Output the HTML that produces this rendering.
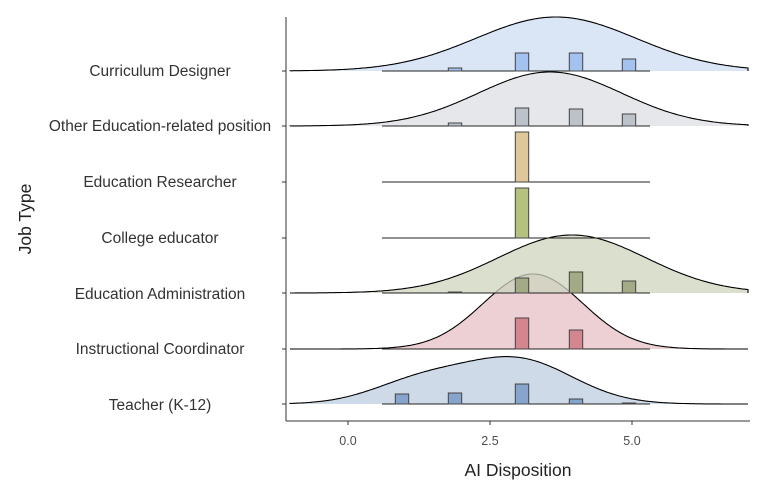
<!DOCTYPE html>
<html><head><meta charset="utf-8"><style>
body{margin:0;background:#fff}
text{font-family:"Liberation Sans",sans-serif}
</style></head><body>
<svg id="s" width="771" height="492" xmlns="http://www.w3.org/2000/svg">
<rect width="771" height="492" fill="#fff"/>
<g id="g"></g>
<line x1="286" y1="17" x2="286" y2="421" stroke="#333" stroke-width="1"/>
<line x1="286" y1="421" x2="750" y2="421" stroke="#333" stroke-width="1"/>
<g stroke="#333"><line x1="348" y1="421" x2="348" y2="425"/><line x1="490" y1="421" x2="490" y2="425"/><line x1="632" y1="421" x2="632" y2="425"/></g>
<g font-size="12.5" fill="#4d4d4d" text-anchor="middle"><text x="348" y="445">0.0</text><text x="490" y="445">2.5</text><text x="632" y="445">5.0</text></g>
<text x="518" y="476" font-size="17.5" fill="#222" text-anchor="middle">AI Disposition</text>
<text transform="translate(31,219) rotate(-90)" font-size="17.5" fill="#222" text-anchor="middle">Job Type</text>
<g font-size="15.5" fill="#333" text-anchor="middle">
<text x="160" y="76">Curriculum Designer</text>
<text x="160" y="131">Other Education-related position</text>
<text x="160" y="187">Education Researcher</text>
<text x="160" y="243">College educator</text>
<text x="160" y="299">Education Administration</text>
<text x="160" y="354">Instructional Coordinator</text>
<text x="160" y="410">Teacher (K-12)</text>
</g>
</svg>
<script>
const g=document.getElementById('g');let h='';
const bx=[402,455,522,576,629];
function dens(base,comps,fill,bars,bfill){
  let d=`M290,${base}`;
  for(let x=290;x<=748;x+=2){let y=0;for(const c of comps)y+=c[2]*Math.exp(-0.5*((x-c[0])/c[1])**2);d+=` L${x},${(base-y).toFixed(1)}`;}
  d+=` L748,${base}`;
  if(fill)h+=`<path d="${d} Z" fill="${fill}" stroke="none"/>`;
  h+=`<line x1="382" y1="${base}" x2="650" y2="${base}" stroke="#222"/>`;
  bars.forEach((t,i)=>{if(t!=null){const x=bx[i]-6.7;h+=`<rect x="${x}" y="${t}" width="13.4" height="${base-t}" fill="${bfill}" stroke="#444" stroke-width="1"/>`;}});
  if(fill){h+=`<path d="${d}" fill="none" stroke="#000" stroke-width="1.1"/>`;}
  h+=`<line x1="282" y1="${base}" x2="286" y2="${base}" stroke="#333"/>`;
}
dens(404,[[518,55,44],[420,48,22]],'#cfdae8',[394,393,384,399,403],'#87a5cc');
dens(349,[[533,50,75]],'#ecd0d3',[null,null,318,330,null],'#d4868f');
dens(293,[[572,74,58]],'rgba(205,212,190,0.75)',[null,292,278,272,281],'#a3ab86');
dens(238,[],null,[null,null,188,null,null],'#b5c27f');
dens(182,[],null,[null,null,132,null,null],'#dfc79c');
dens(126,[[550,72,54]],'#e5e7ea',[null,123,108,109,114],'#bcc2ca');
dens(71,[[556,80,54]],'#dae5f6',[null,68,53,53,59],'#a4c2ef');
g.innerHTML=h;
</script>
</body></html>
